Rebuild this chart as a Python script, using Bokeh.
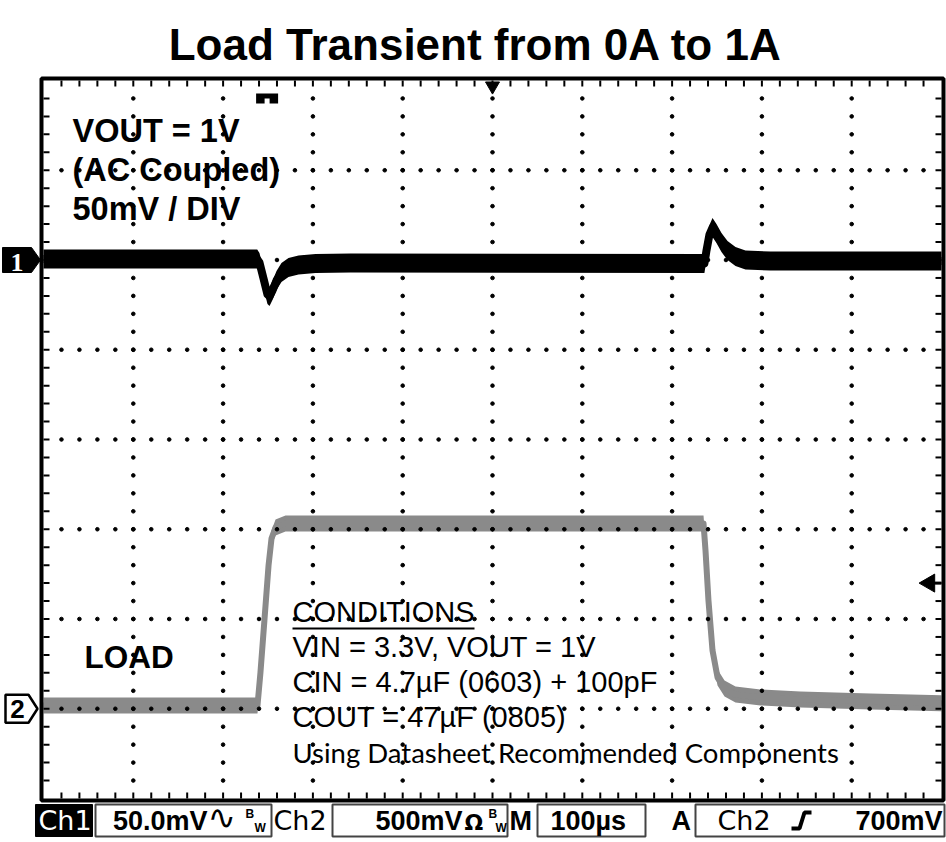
import math
from bokeh.plotting import figure
from bokeh.models import Range1d, Label
from bokeh.embed import file_html
from bokeh.resources import INLINE

# ---------------- data ----------------
title_text = "Load Transient from 0A to 1A"

time_per_div_us = 100
n_hdiv = 10
n_vdiv = 8

ch1_scale_mv_per_div = 50
ch1_position_div = 2.0
ch1_time_us = [0, 238, 240.5, 245, 249.4, 251.7, 255, 259.5, 265, 272.8, 284, 303, 342,
               736, 738.3, 741.6, 745, 749.4, 755, 761.7, 770.6, 781.7, 809.6, 1000]
ch1_mv = [0.5, 0.5, -1.4, -10.3, -19.2, -20.3, -17.0, -11.4, -7.0, -4.2, -2.8, -1.9, -1.7,
          -1.9, 5.3, 14.2, 18.1, 14.8, 9.7, 5.3, 1.9, 0.0, -0.6, -0.6]

ch2_scale_mv_per_div = 500
ch2_position_div = -3.0
ch2_time_us = [0, 238.3, 241.6, 246, 250.6, 253.9, 258.4, 269.5, 735, 737.2, 740.5, 745,
               750.6, 758.4, 770.6, 798.4, 843, 921, 1000]
ch2_mv = [18, 18, 202, 492, 798, 948, 1010, 1032, 1032, 882, 603, 325, 174, 113, 79, 63,
          52, 40, 30]

trigger_time_us = 249
trigger_level_mv = 700

vout_lines = ["VOUT = 1V", "(AC Coupled)", "50mV / DIV"]
load_label = "LOAD"
conditions_title = "CONDITIONS"
conditions_lines = ["VIN = 3.3V, VOUT = 1V", "CIN = 4.7\u00b5F (0603) + 100pF", "COUT = 47\u00b5F (0805)"]
components_line = "Using Datasheet Recommended Components"

status_ch1 = "Ch1"
status_ch1_scale = "50.0mV"
status_ch2 = "Ch2"
status_ch2_scale = "500mV"
status_time = "100\u00b5s"
status_trig_src = "Ch2"
status_trig_level = "700mV"

# ---------------- geometry (reference-pixel mapping) ----------------
W, H = 946, 842
GRID_LEFT = 43
GRID_TOP = 80
PX_PER_US = 0.898
PX_PER_DIV = 89.75


def X(rx):
    return (rx - GRID_LEFT) / PX_PER_US


def Y(ry):
    return n_vdiv / 2 - (ry - GRID_TOP) / PX_PER_DIV


t_max = time_per_div_us * n_hdiv
y_half = n_vdiv / 2

p = figure(width=W, height=H, x_range=Range1d(X(0), X(W)),
           y_range=Range1d(Y(H), Y(0)), output_backend="svg",
           toolbar_location=None, min_border=0, x_axis_location=None,
           y_axis_location=None, outline_line_color=None)
p.grid.visible = False
p.background_fill_color = "white"
p.border_fill_color = "white"

# ---------------- traces ----------------
ch1_y = [ch1_position_div + v / ch1_scale_mv_per_div for v in ch1_mv]
ch2_y = [ch2_position_div + v / ch2_scale_mv_per_div for v in ch2_mv]

band1 = 9.5 / PX_PER_DIV
p.varea(x=ch1_time_us, y1=[v - band1 for v in ch1_y], y2=[v + band1 for v in ch1_y],
        fill_color="black")
p.line(ch1_time_us, ch1_y, line_width=8, color="black", line_join="round")

band2 = 8 / PX_PER_DIV
p.varea(x=ch2_time_us, y1=[v - band2 for v in ch2_y], y2=[v + band2 for v in ch2_y],
        fill_color="#8a8a8a")
p.line(ch2_time_us, ch2_y, line_width=6, color="#8a8a8a", line_join="round")

# ---------------- graticule ----------------
minor = 5
gx, gy = [], []
for k in range(1, n_hdiv):
    for j in range(1, n_vdiv * minor):
        gx.append(k * time_per_div_us)
        gy.append(-y_half + j / minor)
for k in range(1, n_vdiv):
    for i in range(1, n_hdiv * minor):
        gx.append(i * time_per_div_us / minor)
        gy.append(-y_half + k)
p.scatter(gx, gy, size=3.6, color="black", marker="circle")

tick_len_x = 6 / PX_PER_US
tick_len_y = 6 / PX_PER_DIV
tx = [i * time_per_div_us / minor for i in range(1, n_hdiv * minor)]
ty = [-y_half + j / minor for j in range(1, n_vdiv * minor)]
p.segment(x0=tx, y0=[y_half] * len(tx), x1=tx, y1=[y_half - tick_len_y] * len(tx),
          line_width=2, color="black")
p.segment(x0=tx, y0=[-y_half] * len(tx), x1=tx, y1=[-y_half + tick_len_y] * len(tx),
          line_width=2, color="black")
p.segment(x0=[0] * len(ty), y0=ty, x1=[tick_len_x] * len(ty), y1=ty,
          line_width=2, color="black")
p.segment(x0=[t_max] * len(ty), y0=ty, x1=[t_max - tick_len_x] * len(ty), y1=ty,
          line_width=2, color="black")

# frame
p.quad(left=X(41), right=X(943), top=Y(78), bottom=Y(800), fill_color=None,
       line_color="black", line_width=4)

# ---------------- scope markers ----------------
h1 = 12.5 / PX_PER_DIV
p.patch([X(2), X(31), X(40), X(31), X(2)],
        [ch1_position_div + h1, ch1_position_div + h1, ch1_position_div,
         ch1_position_div - h1, ch1_position_div - h1], fill_color="black", line_color="black")
h2 = 14 / PX_PER_DIV
p.patch([X(5), X(28), X(37), X(28), X(5)],
        [ch2_position_div + h2, ch2_position_div + h2, ch2_position_div,
         ch2_position_div - h2, ch2_position_div - h2], fill_color="white",
        line_color="black", line_width=2.5)

# trigger position icon
p.quad(left=trigger_time_us - 11 / PX_PER_US, right=trigger_time_us + 11 / PX_PER_US,
       top=Y(93), bottom=Y(103), fill_color="black", line_color=None)
p.quad(left=trigger_time_us - 2.5 / PX_PER_US, right=trigger_time_us + 2.5 / PX_PER_US,
       top=Y(98), bottom=Y(103.5), fill_color="white", line_color=None)
# center / expansion marker
p.scatter([t_max / 2], [Y(85.5)], marker="inverted_triangle", size=14, color="black")
# trigger level marker
trig_y = ch2_position_div + trigger_level_mv / ch2_scale_mv_per_div
p.scatter([X(929)], [trig_y], marker="triangle", angle=math.pi / 2, size=18, color="black")
p.segment(x0=[X(930)], y0=[trig_y], x1=[X(941)], y1=[trig_y], line_width=3, color="black")


def lab(text, rx, base, size, style="normal", font="Liberation Sans", color="black",
        align="left"):
    # base is the reference baseline; labels are anchored at their middle
    p.add_layout(Label(x=X(rx), y=Y(base - 0.36 * size), text=text,
                       text_font_size=f"{size}px", text_font_style=style, text_font=font,
                       text_color=color, text_align=align, text_baseline="middle"))


# marker digits
lab("1", 16.5, 262 + 0.36 * 26, 26, "bold", "Liberation Serif", "white", "center")
lab("2", 17, 708 + 0.36 * 26, 26, "bold", "Liberation Sans", "black", "center")

# ---------------- texts ----------------
lab(title_text, 475, 60, 44, "bold", align="center")
for i, t in enumerate(vout_lines):
    lab(t, 72, 142 + i * 39, 32.5, "bold")
lab(load_label, 84, 668, 31.5, "bold")
lab(conditions_title, 292, 622, 29)
p.segment(x0=[X(292)], y0=[Y(628)], x1=[X(474)], y1=[Y(628)], line_width=2, color="black")
for i, t in enumerate(conditions_lines):
    lab(t, 292, 657 + i * 35, 29)
lab(components_line, 292, 762, 27.5, font="Lato")

# ---------------- status bar ----------------
SB_TOP, SB_BOT, SB_BASE = 804, 836, 830
p.quad(left=X(35), right=X(92), top=Y(SB_TOP), bottom=Y(SB_BOT), fill_color="black",
       line_color="black")
for l, r in [(95, 271), (332, 507), (537, 645), (695, 944)]:
    p.quad(left=X(l), right=X(r), top=Y(SB_TOP), bottom=Y(SB_BOT), fill_color="white",
           line_color="#444444", line_width=2)
lab(status_ch1, 38, SB_BASE, 27, font="DejaVu Sans", color="white")
lab(status_ch1_scale, 207, SB_BASE, 27, "bold", align="right")
lab("\u223f", 207, SB_BASE - 1, 34, font="DejaVu Sans")
lab("B", 245, 818, 12, "bold")
lab("W", 254, 832, 12, "bold")
lab(status_ch2, 273, SB_BASE, 27, font="DejaVu Sans")
lab(status_ch2_scale, 462, SB_BASE, 27, "bold", align="right")
lab("\u03a9", 464, SB_BASE, 22, "bold", font="DejaVu Sans")
lab("B", 488, 818, 12, "bold")
lab("W", 495, 832, 12, "bold")
lab("M", 509, SB_BASE, 27, "bold")
lab(status_time, 550, SB_BASE, 27, "bold")
lab("A", 671, SB_BASE, 27, "bold")
lab(status_trig_src, 717, SB_BASE, 27, font="DejaVu Sans")
p.line([X(791), X(799), X(804), X(811)], [Y(828), Y(828), Y(812), Y(812)],
       line_width=4, color="black")
lab(status_trig_level, 942, SB_BASE, 27, "bold", align="right")

open("out.html", "w").write(file_html(p, INLINE))
